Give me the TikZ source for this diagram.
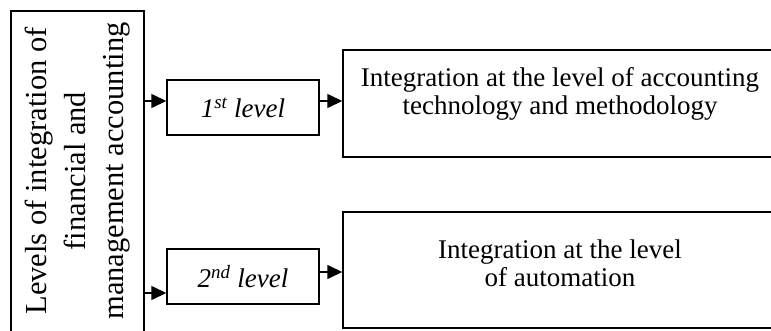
\documentclass[tikz,border=0pt]{standalone}
\usepackage{fontspec}
\setmainfont{Liberation Serif}
\usetikzlibrary{arrows.meta}
\begin{document}
\begin{tikzpicture}[x=1pt,y=1pt,
  box/.style={draw, line width=1.4pt, inner sep=0pt},
  lbl/.style={font=\fontsize{27}{28.3}\selectfont, align=center, inner sep=0pt},
  arr/.style={line width=1.4pt, -{Triangle[length=15pt,width=14pt]}}]
\clip (0,0) rectangle (771,-330);
\node[box, minimum width=133pt, minimum height=334pt] (L) at (77.5,-178) {};
\node[rotate=90, inner sep=0pt, font=\fontsize{30.5}{38.5}\selectfont, align=center] (LT) at (78,-171)
  {Levels of integration of\\financial and\\management accounting};
\node[box, lbl, minimum width=152pt, minimum height=55pt] (l1) at (243,-107.5)
  {\itshape 1\textsuperscript{st} level};
\node[box, lbl, minimum width=152pt, minimum height=55pt] (l2) at (243,-276.5)
  {\itshape 2\textsuperscript{nd} level};
\node[box, minimum width=434pt, minimum height=107pt] (b1) at (560,-103.5) {};
\node[lbl] (t1) at (560,-94) {Integration at the level of accounting\\technology and methodology};
\node[box, minimum width=434pt, minimum height=116pt] (b2) at (560,-270) {};
\node[lbl] (t2) at (560,-263) {Integration at the level\\of automation};
\coordinate (y1) at (0,-101);
\coordinate (y2) at (0,-293);
\coordinate (y3) at (0,-272);
\draw[arr] (L.east |- y1) -- (l1.west |- y1);
\draw[arr] (l1.east |- y1) -- (b1.west |- y1);
\draw[arr] (L.east |- y2) -- (l2.west |- y2);
\draw[arr] (l2.east |- y3) -- (b2.west |- y3);
\end{tikzpicture}
\end{document}
